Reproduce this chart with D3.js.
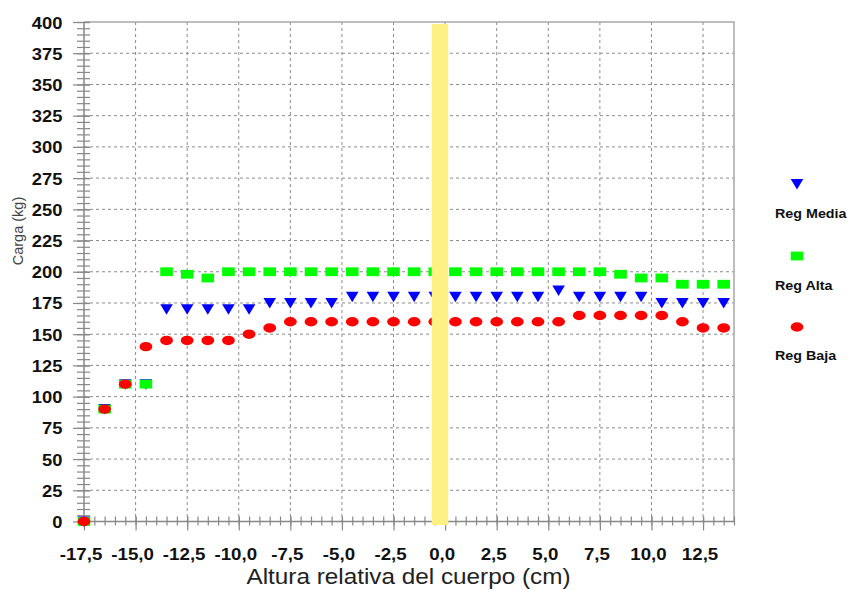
<!DOCTYPE html>
<html>
<head>
<meta charset="utf-8">
<script src="https://cdn.jsdelivr.net/npm/d3@7"></script>
<style>
  body { margin: 0; background: #fff; }
  svg { display: block; }
</style>
</head>
<body>
<svg id="chart" width="850" height="590"></svg>
<script>
// Relative body height (cm) for every measurement
const alturas = [-17.5, -16.5, -15.5, -14.5, -13.5, -12.5, -11.5, -10.5, -9.5, -8.5, -7.5, -6.5, -5.5, -4.5, -3.5, -2.5,
                 -1.5, -0.5, 0.5, 1.5, 2.5, 3.5, 4.5, 5.5, 6.5, 7.5, 8.5, 9.5, 10.5, 11.5, 12.5, 13.5];
// Load (kg) per regulation setting
const regMedia = [0, 90, 110, 110, 170, 170, 170, 170, 170, 175, 175, 175, 175, 180, 180, 180,
                  180, 180, 180, 180, 180, 180, 180, 185, 180, 180, 180, 180, 175, 175, 175, 175];
const regAlta  = [0, 90, 110, 110, 200, 198, 195, 200, 200, 200, 200, 200, 200, 200, 200, 200,
                  200, 200, 200, 200, 200, 200, 200, 200, 200, 200, 198, 195, 195, 190, 190, 190];
const regBaja  = [0, 90, 110, 140, 145, 145, 145, 145, 150, 155, 160, 160, 160, 160, 160, 160,
                  160, 160, 160, 160, 160, 160, 160, 160, 165, 165, 165, 165, 165, 160, 155, 155];

const xTicks = [-17.5, -15, -12.5, -10, -7.5, -5, -2.5, 0, 2.5, 5, 7.5, 10, 12.5];
const xTickLabels = ["-17,5", "-15,0", "-12,5", "-10,0", "-7,5", "-5,0", "-2,5", "0,0", "2,5", "5,0", "7,5", "10,0", "12,5"];
const yTicks = [0, 25, 50, 75, 100, 125, 150, 175, 200, 225, 250, 275, 300, 325, 350, 375, 400];
const bandRange = [-0.65, 0.15];   // highlighted zone around the reference height
const seriesNames = ["Reg Media", "Reg Alta", "Reg Baja"];
const xTitle = "Altura relativa del cuerpo (cm)";
const yTitle = "Carga  (kg)";

const svg = d3.select("#chart");
const x = d3.scaleLinear().domain([-17.5, 14]).range([84, 734]);
const y = d3.scaleLinear().domain([0, 400]).range([521.5, 22]);
const [x0, x1] = x.range();
const [yb, yt] = y.range();

const gridColor = "#8c8c8c";
const axisColor = "#888";
const font = "'Liberation Sans', Arial, sans-serif";

// Dashed grid
svg.append("g").selectAll("line").data(yTicks.filter(v => v > 0 && v < 400)).join("line")
  .attr("x1", x0).attr("x2", x1).attr("y1", d => y(d)).attr("y2", d => y(d))
  .attr("stroke", gridColor).attr("stroke-width", 1).attr("stroke-dasharray", "3,3");
svg.append("g").selectAll("line").data(xTicks.filter(v => v > -17.5)).join("line")
  .attr("x1", d => x(d)).attr("x2", d => x(d)).attr("y1", yt).attr("y2", yb)
  .attr("stroke", gridColor).attr("stroke-width", 1).attr("stroke-dasharray", "3,3");

// Plot frame (top and right)
svg.append("path")
  .attr("d", `M${x0},${yt}H${x1}V${yb}`)
  .attr("fill", "none").attr("stroke", "#a8a8a8").attr("stroke-width", 1.5);

// Y axis: minor ticks every 5 kg, major ticks with labels every 25 kg
const yMinor = svg.append("g").attr("transform", `translate(${x0},0)`)
  .call(d3.axisLeft(y).tickValues(d3.range(0, 401, 5)).tickSize(7).tickFormat(""));
const yMajor = svg.append("g").attr("transform", `translate(${x0},0)`)
  .call(d3.axisLeft(y).tickValues(yTicks).tickSize(11).tickFormat((d, i) => String(yTicks[i])));
[yMinor, yMajor].forEach(g => {
  g.select(".domain").remove();
  g.selectAll(".tick line").attr("x1", 6).attr("stroke", axisColor).attr("stroke-width", 1.2);
});
yMajor.selectAll(".tick text")
  .attr("x", null).attr("dy", null).attr("y", 6)
  .attr("transform", "translate(-21.5,0) scale(1.08,1)")
  .attr("text-anchor", "end")
  .attr("font-family", font)
  .attr("font-size", 17).attr("font-weight", "bold").attr("fill", "#111");

// X axis: minor ticks every 0.5 cm, major ticks with labels every 2.5 cm
const xMinor = svg.append("g").attr("transform", `translate(0,${yb})`)
  .call(d3.axisBottom(x).tickValues(d3.range(-17.5, 14.01, 0.5)).tickSize(4).tickFormat(""));
const xMajor = svg.append("g").attr("transform", `translate(0,${yb})`)
  .call(d3.axisBottom(x).tickValues(xTicks).tickSize(9).tickFormat((d, i) => xTickLabels[i]));
[xMinor, xMajor].forEach(g => {
  g.select(".domain").remove();
  g.selectAll(".tick line").attr("y1", -5).attr("stroke", axisColor).attr("stroke-width", 1.2);
});
xMajor.selectAll(".tick text")
  .attr("y", 0).attr("dy", null)
  .attr("transform", "translate(-3.5,38.5) scale(1.1,1)")
  .attr("text-anchor", "middle")
  .attr("font-family", font)
  .attr("font-size", 17).attr("font-weight", "bold").attr("fill", "#111");

// Axis lines
svg.append("path")
  .attr("d", `M${x0},${yt}V${yb}H${x1}`)
  .attr("fill", "none").attr("stroke", axisColor).attr("stroke-width", 1.5);

// Marker shapes
const tri = "M-6.3,-5L6.3,-5L0,5.5Z";
function drawTri(g, pts) {
  g.selectAll("path").data(pts).join("path")
    .attr("d", tri).attr("transform", d => `translate(${d[0]},${d[1]})`).attr("fill", "#0000ff");
}
function drawSq(g, pts) {
  g.selectAll("rect").data(pts).join("rect")
    .attr("x", d => d[0] - 6.3).attr("y", d => d[1] - 4.4)
    .attr("width", 12.6).attr("height", 8.8).attr("fill", "#00ff00");
}
function drawEl(g, pts) {
  g.selectAll("ellipse").data(pts).join("ellipse")
    .attr("cx", d => d[0]).attr("cy", d => d[1]).attr("rx", 6.4).attr("ry", 4.7).attr("fill", "#ff0000");
}

const pts = vals => alturas.map((a, i) => [x(a), y(vals[i])]);
drawTri(svg.append("g"), pts(regMedia));
drawSq(svg.append("g"), pts(regAlta));
drawEl(svg.append("g"), pts(regBaja));

// Highlighted band around zero height
svg.append("rect")
  .attr("x", x(bandRange[0])).attr("width", x(bandRange[1]) - x(bandRange[0]))
  .attr("y", yt + 2).attr("height", yb - yt + 1.5)
  .attr("fill", "#fdf184");

// Legend
const legend = svg.append("g");
drawTri(legend.append("g"), [[797, 184]]);
drawSq(legend.append("g"), [[797, 256]]);
drawEl(legend.append("g"), [[797, 327]]);
legend.selectAll("text").data(seriesNames).join("text")
  .attr("transform", (d, i) => `translate(775,${[218, 289.5, 360][i]}) scale(1.06,1)`)
  .attr("font-family", font).attr("font-size", 13.5).attr("font-weight", "bold")
  .attr("fill", "#111").text(d => d);

// Axis titles
svg.append("text")
  .attr("transform", "translate(408.5,584) scale(1.13,1)")
  .attr("text-anchor", "middle")
  .attr("font-family", font).attr("font-size", 21.5).attr("fill", "#222")
  .text(xTitle);
svg.append("text")
  .attr("transform", "translate(22.5,231) rotate(-90)")
  .attr("text-anchor", "middle")
  .attr("font-family", font).attr("font-size", 14.5).attr("fill", "#444")
  .text(yTitle);
</script>
</body>
</html>
